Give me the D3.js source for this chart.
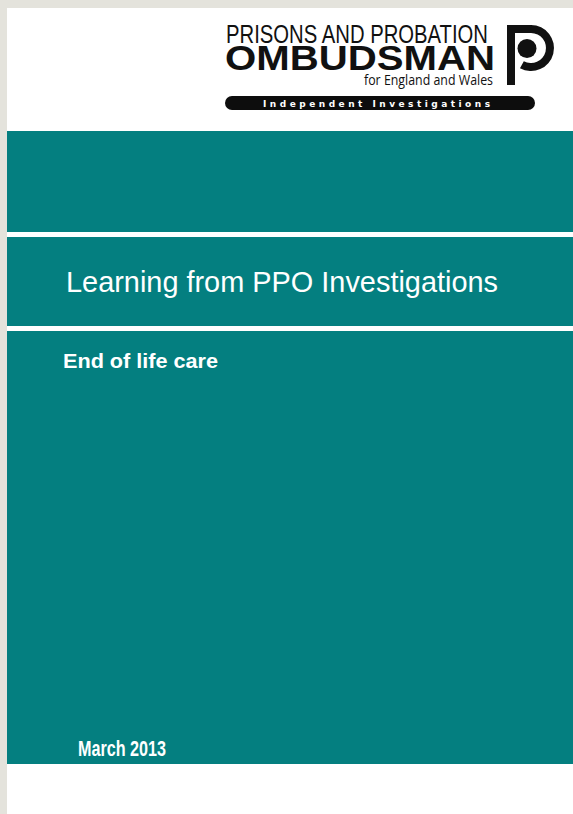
<!DOCTYPE html>
<html>
<head>
<meta charset="utf-8">
<script src="https://cdn.jsdelivr.net/npm/d3@7"></script>
<style>
  html, body { margin: 0; padding: 0; background: #e4e3dc; }
  svg { display: block; }
</style>
</head>
<body>
<div id="cover"></div>
<script>
// text content of the cover
const logoLines = ["PRISONS AND PROBATION", "OMBUDSMAN", "for England and Wales"];
const strapline = ["Independent Investigations"];
const titleLines = ["Learning from PPO Investigations"];
const subtitleLines = ["End of life care"];
const dateLines = ["March 2013"];

const width = 573, height = 814;
const teal = "#047f80";

const svg = d3.select("#cover")
    .append("svg")
    .attr("width", width)
    .attr("height", height);

// page
svg.append("rect")
    .attr("x", 7).attr("y", 8)
    .attr("width", width - 7).attr("height", height - 8)
    .attr("fill", "#ffffff");

// teal bands split by two white rules
const bands = [[131, 232], [237, 326], [331, 764]];
svg.selectAll("rect.band")
    .data(bands)
    .join("rect")
    .attr("class", "band")
    .attr("x", 7)
    .attr("y", d => d[0])
    .attr("width", width - 7)
    .attr("height", d => d[1] - d[0])
    .attr("fill", teal);

// fit a text node to a given width
function fit(sel, w, mode) {
    sel.attr("textLength", w).attr("lengthAdjust", mode || "spacingAndGlyphs");
}

// ---- logo
const logo = svg.append("g");

const logoStyle = [
    {x: 226, y: 43, size: 26, weight: "normal", family: "'Liberation Sans', Arial, sans-serif", w: 262},
    {x: 225, y: 70, size: 35, weight: "bold", family: "'Liberation Sans', Arial, sans-serif", w: 270},
    {x: 364, y: 85, size: 14, weight: "normal", family: "'Open Sans', 'Liberation Sans', sans-serif", w: 129}
];

logo.selectAll("text.logo")
    .data(logoLines)
    .join("text")
    .attr("class", "logo")
    .attr("x", (d, i) => logoStyle[i].x)
    .attr("y", (d, i) => logoStyle[i].y)
    .attr("font-size", (d, i) => logoStyle[i].size)
    .attr("font-weight", (d, i) => logoStyle[i].weight)
    .attr("font-family", (d, i) => logoStyle[i].family)
    .attr("fill", "#111")
    .text(d => d)
    .each(function(d, i) { fit(d3.select(this), logoStyle[i].w); });

logo.append("rect")
    .attr("x", 225).attr("y", 96)
    .attr("width", 310).attr("height", 14)
    .attr("rx", 7)
    .attr("fill", "#0d0d0d");

logo.selectAll("text.strap")
    .data(strapline)
    .join("text")
    .attr("class", "strap")
    .attr("x", 263).attr("y", 107)
    .attr("font-size", 9)
    .attr("font-weight", "bold")
    .attr("font-family", "'DejaVu Sans', sans-serif")
    .attr("fill", "#ffffff")
    .text(d => d)
    .call(fit, 227, "spacing");

// P mark
logo.append("rect")
    .attr("x", 507).attr("y", 25)
    .attr("width", 8).attr("height", 60)
    .attr("fill", "#111");
logo.append("rect")
    .attr("x", 507).attr("y", 25)
    .attr("width", 25).attr("height", 8)
    .attr("fill", "#111");
logo.append("path")
    .attr("transform", "translate(531,48)")
    .attr("d", d3.arc()
        .innerRadius(15)
        .outerRadius(23)
        .startAngle(0)
        .endAngle(Math.PI + 0.5)())
    .attr("fill", "#111");
logo.append("circle")
    .attr("cx", 527).attr("cy", 48.5)
    .attr("r", 9.5)
    .attr("fill", "#111");

// ---- cover titles
svg.selectAll("text.title")
    .data(titleLines)
    .join("text")
    .attr("class", "title")
    .attr("x", 66).attr("y", 292)
    .attr("font-size", 30)
    .attr("font-family", "'Liberation Sans', Arial, sans-serif")
    .attr("fill", "#ffffff")
    .text(d => d)
    .call(fit, 432);

svg.selectAll("text.subtitle")
    .data(subtitleLines)
    .join("text")
    .attr("class", "subtitle")
    .attr("x", 63).attr("y", 368)
    .attr("font-size", 20)
    .attr("font-weight", "bold")
    .attr("font-family", "'Liberation Sans', Arial, sans-serif")
    .attr("fill", "#ffffff")
    .text(d => d)
    .call(fit, 155);

svg.selectAll("text.date")
    .data(dateLines)
    .join("text")
    .attr("class", "date")
    .attr("x", 78).attr("y", 756)
    .attr("font-size", 22)
    .attr("font-weight", "bold")
    .attr("font-family", "'Liberation Sans Narrow', 'Liberation Sans', Arial, sans-serif")
    .attr("fill", "#ffffff")
    .text(d => d)
    .call(fit, 88);
</script>
</body>
</html>
